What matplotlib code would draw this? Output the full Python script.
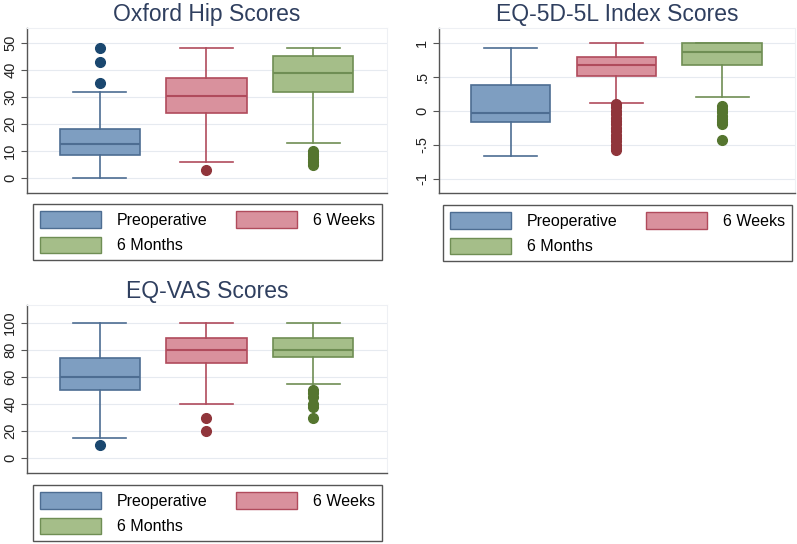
import matplotlib.pyplot as plt
from matplotlib.patches import Patch

plt.rcParams['font.family'] = ['Liberation Sans', 'DejaVu Sans']

groups = ['Preoperative', '6 Weeks', '6 Months']
fills = ['#7e9ec1', '#d9919d', '#a5be89']
edges = ['#4d6d92', '#b04b5c', '#6f8e54']
dots = ['#1a476f', '#90353b', '#55752f']

# per group: whisker low, q1, median, q3, whisker high
ohs_stats = [[0, 8.5, 12.5, 18, 32], [6, 24, 30.5, 37, 48], [13, 32, 39, 45, 48]]
ohs_fliers = [[35, 43, 48], [3], [5, 6, 7, 8, 9, 10]]
ohs_ticks = [0, 10, 20, 30, 40, 50]
ohs_labels = ['0', '10', '20', '30', '40', '50']

eq5d_stats = [[-0.66, -0.16, -0.03, 0.38, 0.92], [0.12, 0.52, 0.67, 0.80, 1.0], [0.21, 0.68, 0.87, 1.0, 1.0]]
eq5d_fliers = [[], [0.1, 0.05, 0.0, -0.05, -0.1, -0.15, -0.2, -0.25, -0.3, -0.35, -0.4, -0.45, -0.5, -0.55, -0.58],
               [0.07, 0.03, -0.02, -0.07, -0.12, -0.17, -0.2, -0.43]]
eq5d_ticks = [-1, -0.5, 0, 0.5, 1]
eq5d_labels = ['-1', '-.5', '0', '.5', '1']

vas_stats = [[15, 50, 60, 74, 100], [40, 70, 80, 89, 100], [55, 75, 80, 89, 100]]
vas_fliers = [[10], [30, 20], [50, 48, 45, 40, 38, 30]]
vas_ticks = [0, 20, 40, 60, 80, 100]
vas_labels = ['0', '20', '40', '60', '80', '100']

W, H = 797, 544
fig = plt.figure(figsize=(W / 100, H / 100), dpi=100)
fig.patch.set_facecolor('white')


def px_rect(l, t, r, b):
    return [l / W, 1 - b / H, (r - l) / W, (b - t) / H]


def panel(rect, leg_rect, title, stats, fliers, ticks, labels, ylim):
    ax = fig.add_axes(px_rect(*rect))
    bxp_stats = []
    for s, f in zip(stats, fliers):
        bxp_stats.append({'whislo': s[0], 'q1': s[1], 'med': s[2], 'q3': s[3],
                          'whishi': s[4], 'fliers': f})
    for i in range(3):
        ax.bxp([bxp_stats[i]], positions=[i + 1], widths=0.75, patch_artist=True,
               showfliers=True,
               boxprops=dict(facecolor=fills[i], edgecolor=edges[i], linewidth=1.2),
               medianprops=dict(color=edges[i], linewidth=1.5),
               whiskerprops=dict(color=edges[i], linewidth=1.2),
               capprops=dict(color=edges[i], linewidth=1.2),
               capwidths=0.5,
               flierprops=dict(marker='o', markerfacecolor=dots[i],
                               markeredgecolor=dots[i], markersize=7))
    ax.set_xlim(0.32, 3.69)
    ax.set_ylim(*ylim)
    ax.set_xticks([])
    ax.set_yticks(ticks)
    ax.set_yticklabels(labels, rotation=90, va='center', fontsize=10.5, color='#222222')
    ax.tick_params(axis='y', length=4, color='#555555', pad=3)
    ax.grid(axis='y', color='#e6eaf0', linewidth=0.8)
    ax.set_axisbelow(True)
    for side in ['top', 'right']:
        ax.spines[side].set_color('#eef0f4')
    for side in ['left', 'bottom']:
        ax.spines[side].set_color('#555555')
        ax.spines[side].set_linewidth(1.0)
    ax.set_title(title, fontsize=16.5, color='#2f3f5f', pad=5)

    handles = [Patch(facecolor=fills[0], edgecolor=edges[0], label=groups[0]),
               Patch(facecolor=fills[2], edgecolor=edges[2], label=groups[2]),
               Patch(facecolor=fills[1], edgecolor=edges[1], label=groups[1])]
    l, t, r, b = leg_rect
    fig.legend(handles=handles, ncol=2, mode='expand', loc='upper left',
               bbox_to_anchor=(l / W, 1 - b / H, (r - l) / W, (b - t) / H),
               fontsize=11.5, handlelength=3.8, handleheight=1.2, handletextpad=1.0,
               labelspacing=0.55, borderaxespad=0, borderpad=0.45, columnspacing=2.0,
               fancybox=False, edgecolor='#555555', framealpha=1)
    return ax


panel((27, 28, 387, 193), (33, 204, 382, 263), 'Oxford Hip Scores',
      ohs_stats, ohs_fliers, ohs_ticks, ohs_labels, (-5.5, 55.5))
panel((439, 28, 795, 193), (443, 205, 792, 263), 'EQ-5D-5L Index Scores',
      eq5d_stats, eq5d_fliers, eq5d_ticks, eq5d_labels, (-1.21, 1.22))
panel((27, 305, 387, 473), (33, 485, 382, 542), 'EQ-VAS Scores',
      vas_stats, vas_fliers, vas_ticks, vas_labels, (-10.8, 113))

fig.savefig('out.png', dpi=100)
